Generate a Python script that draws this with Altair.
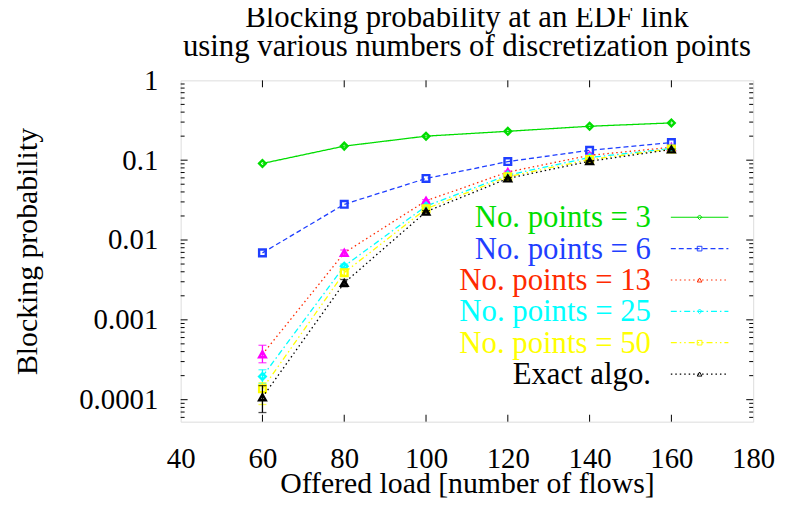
import altair as alt
import pandas as pd

# ---------------- data ----------------
loads = [60, 80, 100, 120, 140, 160]

series_names = ["No. points = 3", "No. points = 6", "No. points = 13",
                "No. points = 25", "No. points = 50", "Exact algo."]

p3 = [0.091, 0.15, 0.20, 0.23, 0.266, 0.293]
p6 = [0.0069, 0.028, 0.059, 0.096, 0.133, 0.166]
p13 = [0.00037, 0.0069, 0.031, 0.071, 0.115, 0.145]
p25 = [0.000195, 0.0047, 0.0266, 0.065, 0.108, 0.140]
p50 = [0.000137, 0.0039, 0.0246, 0.062, 0.102, 0.138]
exact = [0.000107, 0.0029, 0.0226, 0.059, 0.097, 0.136]

# error bars (low / high)
p13_lo = [0.00029, 0.0064, 0.030, 0.069, 0.113, 0.143]
p13_hi = [0.00048, 0.0075, 0.032, 0.073, 0.117, 0.147]
p25_lo = [0.00016, 0.0044, 0.0258, 0.063, 0.106, 0.138]
p25_hi = [0.000237, 0.0050, 0.0274, 0.067, 0.110, 0.142]
p50_lo = [0.000087, 0.0035, 0.0238, 0.060, 0.100, 0.136]
p50_hi = [0.000163, 0.0043, 0.0254, 0.064, 0.104, 0.140]
ex_lo = [0.000069, 0.0026, 0.0218, 0.057, 0.095, 0.134]
ex_hi = [0.00015, 0.0032, 0.0234, 0.061, 0.099, 0.138]

x_ticks = [40, 60, 80, 100, 120, 140, 160, 180]
y_ticks = [0.0001, 0.001, 0.01, 0.1, 1]

# ---------------- styles ----------------
FONT = "Liberation Serif, Times New Roman, Times, DejaVu Serif, serif"
FS_TICK = 28
FS_TEXT = 31
W, H = 577, 344
X_DOMAIN = [40, 180]
Y_DOMAIN = [5.3e-5, 1]

line_colors = ["#00dd00", "#1f3fff", "#ff2a00", "#00ffff", "#ffff00", "#000000"]
point_colors = ["#00dd00", "#1f3fff", "#ff00ff", "#00ffff", "#ffff00", "#000000"]
text_colors = ["#00dd00", "#1f3fff", "#ff2a00", "#00ffff", "#ffff00", "#000000"]
dashes = [[1, 0], [5, 3], [1.5, 3], [6, 3, 1.5, 3], [6, 3, 1.5, 3, 1.5, 3], [1.5, 3]]
shapes = ["diamond", "square", "triangle-up", "diamond", "square", "triangle-up"]

values = [p3, p6, p13, p25, p50, exact]
lows = [None, None, p13_lo, p25_lo, p50_lo, ex_lo]
highs = [None, None, p13_hi, p25_hi, p50_hi, ex_hi]

xs = alt.Scale(domain=X_DOMAIN, nice=False, zero=False)
ys = alt.Scale(type="log", domain=Y_DOMAIN, nice=False)

layers = []

# base axes layer (labels and titles)
axis_df = pd.DataFrame({"load": [X_DOMAIN[0]], "p": [1.0]})
base = alt.Chart(axis_df).mark_point(opacity=0).encode(
    x=alt.X("load:Q", scale=xs, axis=alt.Axis(
        values=x_ticks, format="d", ticks=False, domain=False, grid=False,
        labelFont=FONT, labelFontSize=FS_TICK + 1, labelColor="black",
        labelBaseline="middle", labelPadding=37, labelFlush=False,
        labelOverlap=False,
        title="Offered load [number of flows]", titleFont=FONT,
        titleFontSize=FS_TEXT - 1, titleFontWeight="normal", titleColor="black",
        titleBaseline="middle", titleY=62, titleX=W / 2)),
    y=alt.Y("p:Q", scale=ys, axis=alt.Axis(
        values=y_ticks, ticks=False, domain=False, grid=False,
        labelExpr="datum.value >= 1 ? '1' : format(datum.value, '')",
        labelFont=FONT, labelFontSize=FS_TICK + 1, labelColor="black",
        labelPadding=23, labelFlush=False, labelOverlap=False,
        title="Blocking probability", titleFont=FONT, titleFontSize=FS_TICK + 2,
        titleFontWeight="normal", titleColor="black",
        titleBaseline="middle", titleX=-154, titleY=H / 2)),
)
layers.append(base)

# inward ticks
xt = pd.DataFrame({"v": x_ticks[1:-1]})
layers.append(alt.Chart(xt).mark_rule(color="black", strokeWidth=1).encode(
    x=alt.X("v:Q", scale=xs), y=alt.value(H), y2=alt.value(H - 7)))
layers.append(alt.Chart(xt).mark_rule(color="black", strokeWidth=1).encode(
    x=alt.X("v:Q", scale=xs), y=alt.value(0), y2=alt.value(7)))

major_y = [v for v in y_ticks if Y_DOMAIN[0] <= v < Y_DOMAIN[1]]
minor_y = []
for d in range(-5, 0):
    for m in range(2, 10):
        v = m * 10 ** d
        if Y_DOMAIN[0] <= v <= Y_DOMAIN[1]:
            minor_y.append(v)
ymaj = pd.DataFrame({"v": major_y})
ymin = pd.DataFrame({"v": minor_y})
for df, ln in [(ymaj, 7), (ymin, 4)]:
    layers.append(alt.Chart(df).mark_rule(color="black", strokeWidth=1).encode(
        y=alt.Y("v:Q", scale=ys), x=alt.value(0), x2=alt.value(ln)))
    layers.append(alt.Chart(df).mark_rule(color="black", strokeWidth=1).encode(
        y=alt.Y("v:Q", scale=ys), x=alt.value(W), x2=alt.value(W - ln)))

# series
for i, name in enumerate(series_names):
    d = {"load": loads, "p": values[i]}
    if lows[i] is not None:
        d["lo"] = lows[i]
        d["hi"] = highs[i]
    df = pd.DataFrame(d)
    ch = alt.Chart(df)
    layers.append(ch.mark_line(color=line_colors[i], strokeWidth=1.3,
                               strokeDash=dashes[i]).encode(
        x=alt.X("load:Q", scale=xs), y=alt.Y("p:Q", scale=ys)))
    if lows[i] is not None:
        layers.append(ch.mark_rule(color=point_colors[i], strokeWidth=1.3).encode(
            x=alt.X("load:Q", scale=xs), y=alt.Y("lo:Q", scale=ys),
            y2="hi:Q"))
        for col in ["lo", "hi"]:
            layers.append(ch.mark_tick(color=point_colors[i], orient="horizontal",
                                       size=8, thickness=1.3).encode(
                x=alt.X("load:Q", scale=xs), y=alt.Y(f"{col}:Q", scale=ys)))
    layers.append(ch.mark_point(color=point_colors[i], shape=shapes[i],
                                filled=False, size=45, strokeWidth=2.4,
                                opacity=1).encode(
        x=alt.X("load:Q", scale=xs), y=alt.Y("p:Q", scale=ys)))

# manual legend
leg_y0, leg_dy = 138, 31.6
for i, name in enumerate(series_names):
    yy = leg_y0 + leg_dy * i
    ldf = pd.DataFrame({"label": [name]})
    lc = alt.Chart(ldf)
    layers.append(lc.mark_text(align="right", baseline="middle", font=FONT,
                               fontSize=FS_TEXT, color=text_colors[i]).encode(
        text="label:N", x=alt.value(474), y=alt.value(yy + 1)))
    layers.append(lc.mark_rule(color=line_colors[i], strokeWidth=1.2,
                               strokeDash=dashes[i]).encode(
        x=alt.value(494), x2=alt.value(552), y=alt.value(yy)))
    layers.append(lc.mark_point(color=line_colors[i], shape=shapes[i],
                                filled=False, size=22, strokeWidth=1,
                                opacity=1).encode(
        x=alt.value(523), y=alt.value(yy)))

chart = alt.layer(*layers).properties(
    width=W, height=H,
    title=alt.Title(
        ["Blocking probability at an EDF link",
         "using various numbers of discretization points"],
        font=FONT, fontSize=FS_TEXT, fontWeight="normal", color="black",
        anchor="middle", offset=4, lineHeight=29),
    autosize=alt.AutoSizeParams(type="none"),
    padding={"left": 174, "top": 71, "right": 24, "bottom": 75},
).configure_view(stroke="black", strokeWidth=1.3).configure(background="white")

chart.save("out.html", embed_options={"renderer": "svg", "actions": False})
